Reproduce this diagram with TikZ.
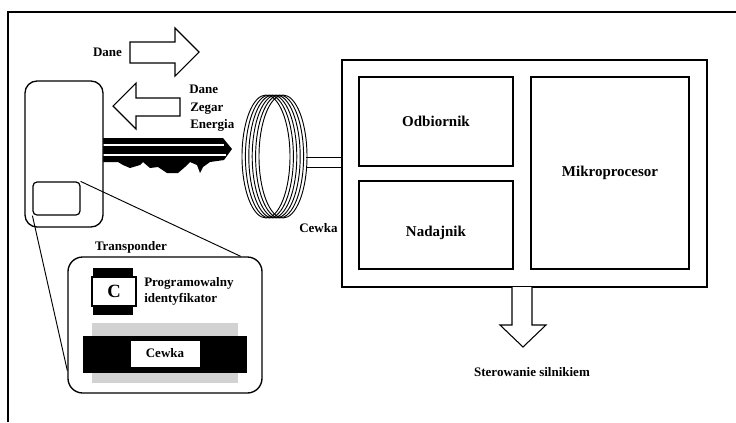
\documentclass[tikz,border=0pt]{standalone}
\usepackage{fontspec}
\setmainfont{Liberation Serif}[BoldFont={Liberation Serif Bold}]
\usetikzlibrary{fit,calc}
\begin{document}
\begin{tikzpicture}[x=0.75pt,y=-0.75pt,
  lbl/.style={font=\fontsize{9.75}{12}\selectfont\bfseries, inner sep=0pt},
  big/.style={font=\fontsize{11.25}{13}\selectfont\bfseries, inner sep=0pt},
  blk/.style={draw=black, line width=0.9pt, inner sep=0pt},
  fatarrow/.style={draw=black, line width=0.8pt, fill=white, line join=miter},
  wire/.style={draw=black, line width=0.7pt},
]
\useasboundingbox (0,0) rectangle (736,422);
\fill[white] (0,0) rectangle (736,422);
% page frame
\draw[line width=1.4pt] (8,422) -- (8,12) -- (736,12);

% data / clock / energy arrows
\draw[fatarrow] (130,42) -- (175,42) -- (175,28) -- (199,52) -- (175,76) -- (175,63) -- (130,63) -- cycle;
\node[lbl] (dane1) at (107.5,52) {Dane};
\draw[fatarrow] (180,98) -- (136,98) -- (136,83) -- (113,106) -- (136,129) -- (136,116) -- (180,116) -- cycle;
\node[lbl, anchor=base west] (dane2) at (189,93) {Dane};
\node[lbl, anchor=base west] (zegar) at (190,111) {Zegar};
\node[lbl, anchor=base west] (energia) at (190,128) {Energia};

% key blade
\fill[black] (100,138) -- (223,138) -- (232,149) -- (224,160) -- (210,162)
  -- (203,167) -- (200,173) -- (197,165) -- (190,162) -- (185,167)
  -- (178,173) -- (167,173) -- (158,167) -- (150,168) -- (143,162)
  -- (140,165) -- (130,168) -- (123,165) -- (118,162) -- (100,162) -- cycle;
\draw[white, line width=0.8pt] (103,145) -- (224,145);
\draw[white, line width=0.8pt] (103,155) -- (226,155);

% key fob with transponder window
\node[draw=black, line width=1pt, fill=white, rounded corners=9pt, inner sep=0pt,
  fit={(25,81) (103,227)}] (fob) {};
\node[draw=black, line width=0.9pt, rounded corners=3pt, inner sep=0pt,
  fit={(33,182) (80,215)}] (win) {};

% transponder detail
\node[draw=black, line width=1pt, rounded corners=11pt, inner sep=0pt,
  fit={(68,257) (262,393)}] (tbox) {};
\node[lbl, anchor=base] (tlabel) at (131,250) {Transponder};
\draw[wire] (win.north east) -- ($(tbox.north east)+(-22,0)$);
\draw[wire] (win.south west) -- ($(tbox.south west)+(0,-23)$);

% programmable chip
\node[fill=black, inner sep=0pt, fit={(93,268) (133,315)}] (chipbody) {};
\node[draw=black, fill=white, line width=0.8pt, inner sep=0pt,
  fit={(92,277) (136,306)}] (chip) {};
\node[font=\fontsize{14}{16}\selectfont\bfseries, inner sep=0pt] at (chip.center) {C};
\node[lbl, anchor=west, align=left] (chiplbl) at (144,291) {Programowalny\\identyfikator};

% transponder coil
\node[fill=gray!35, inner sep=0pt, fit={(92,323) (238,383)}] (core) {};
\node[fill=black, inner sep=0pt, fit={(83,336) (247,373)}] (winding) {};
\node[fill=white, draw=black, inner sep=0pt, fit={(130,340) (200,367)}] (tcoil) {};
\node[lbl] at (tcoil.center) {Cewka};

% reader antenna coil
\foreach \i in {0,...,5}{
  \draw[line width=0.7pt] ({266+3.4*\i},156.5) ellipse [x radius=24, y radius=61.5];
}
\node[lbl, anchor=base west] (cewka) at (299,232) {Cewka};

% reader unit
\node[blk, fit={(342,60) (707,287)}] (main) {};
\node[blk, fit={(359,77) (513,166)}, label={[big]center:Odbiornik}] (odb) {};
\node[blk, fit={(359,181) (513,269)}, label={[big, yshift=-6pt]center:Nadajnik}] (nad) {};
\node[blk, fit={(531,77) (689,269)}, label={[big]center:Mikroprocesor}] (mikro) {};

% antenna leads
\coordinate (leadA) at (306,157);
\coordinate (leadB) at (306,167);
\draw[wire] (leadA) -- (leadA -| main.west);
\draw[wire] (leadB) -- (leadB -| main.west);

% engine control output
\draw[fatarrow] (512,287) -- (512,325) -- (500,325) -- (523,347) -- (546,325) -- (532,325) -- (532,287);
\node[lbl, anchor=base] (ster) at (532,376) {Sterowanie silnikiem};
\end{tikzpicture}
\end{document}
